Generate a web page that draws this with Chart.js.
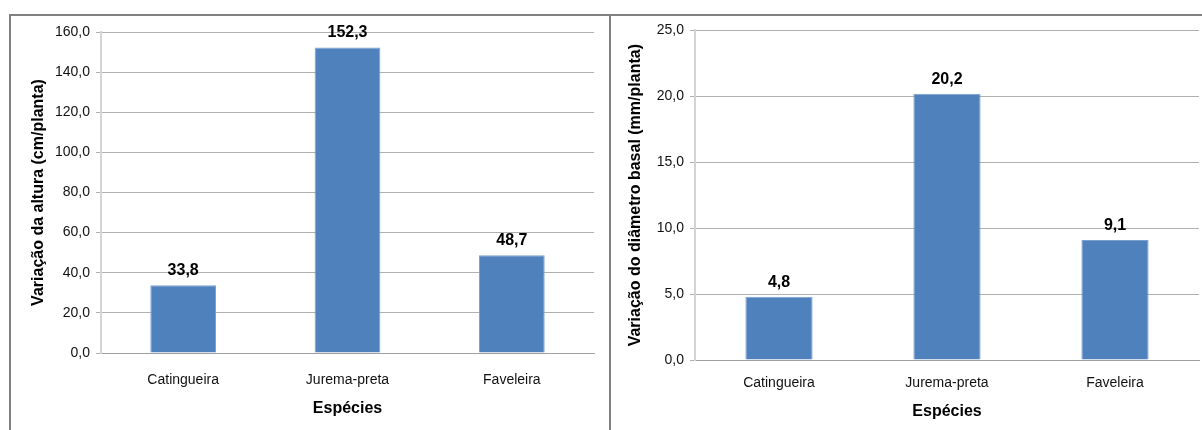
<!DOCTYPE html>
<html>
<head>
<meta charset="utf-8">
<script src="https://cdn.jsdelivr.net/npm/chart.js@4"></script>
<style>
body { margin: 0; background: #fff; width: 1202px; height: 430px; overflow: hidden; position: relative; }
#frame { position: absolute; left: 9px; top: 14px; width: 1200px; height: 430px; border-left: 2px solid #808080; border-top: 2px solid #808080; }
#divider { position: absolute; left: 609px; top: 14px; width: 2px; height: 416px; background: #808080; }
.box { position: absolute; top: 16px; height: 414px; }
#boxA { left: 11px; width: 598px; }
#boxB { left: 611px; width: 591px; }
</style>
</head>
<body>
<div id="frame"></div>
<div id="divider"></div>
<div class="box" id="boxA"><canvas id="chartA"></canvas></div>
<div class="box" id="boxB"><canvas id="chartB"></canvas></div>
<script>
var especies = ["Catingueira", "Jurema-preta", "Faveleira"];
var altura = [33.8, 152.3, 48.7];
var diametro = [4.8, 20.2, 9.1];

function fmt(v) {
	return v.toFixed(1).replace(".", ",");
}

// rotulos em cima das barras
var valueLabels = {
	id: "valueLabels",
	afterDatasetsDraw: function(chart) {
		var ctx = chart.ctx;
		var meta = chart.getDatasetMeta(0);
		ctx.save();
		ctx.font = "bold 16px 'Liberation Sans', Arial, sans-serif";
		ctx.fillStyle = "#000";
		ctx.textAlign = "center";
		ctx.textBaseline = "alphabetic";
		meta.data.forEach(function(bar, i) {
			ctx.fillText(fmt(chart.data.datasets[0].data[i]), bar.x, bar.y - 10);
		});
		ctx.restore();
	}
};

function makeChart(id, values, yTitle, max, step, lay) {
	return new Chart(document.getElementById(id), {
		type: "bar",
		data: {
			labels: especies,
			datasets: [{
				data: values,
				backgroundColor: "#4F81BD",
				borderColor: "#7BA0CD",
				borderWidth: 1,
				barPercentage: 0.4,
				categoryPercentage: 1
			}]
		},
		options: {
			responsive: true,
			maintainAspectRatio: false,
			animation: false,
			layout: { padding: { top: lay.top, right: lay.right, left: 0, bottom: 0 } },
			plugins: { legend: { display: false }, tooltip: { enabled: false } },
			scales: {
				x: {
					grid: { display: false, drawTicks: false },
					border: { color: "#A0A0A0", width: 1 },
					ticks: { color: "#111", padding: lay.xPad, font: { family: "'Liberation Sans', Arial", size: 14 } },
					title: { display: true, text: "Espécies", color: "#000", padding: { top: 0, bottom: lay.xTitlePad }, font: { family: "'Liberation Sans', Arial", size: 16, weight: "bold" } },
					afterFit: function(s) { s.height = lay.xHeight; }
				},
				y: {
					min: 0,
					max: max,
					grid: { color: "#B0B0B0", tickLength: 5, tickColor: "#B0B0B0" },
					border: { color: "#D4D4D4", width: 2 },
					ticks: { stepSize: step, color: "#111", padding: 6, font: { family: "'Liberation Sans', Arial", size: 14 }, callback: function(v) { return fmt(v); } },
					title: { display: true, text: yTitle, color: "#000", padding: { top: lay.yTitlePad, bottom: 0 }, font: { family: "'Liberation Sans', Arial", size: 16, weight: "bold" } },
					afterFit: function(s) { s.width = lay.yWidth; }
				}
			}
		},
		plugins: [valueLabels]
	});
}

makeChart("chartA", altura, "Variação da altura (cm/planta)", 160, 20,
	{ top: 16, right: 15, xPad: 19, xHeight: 77, xTitlePad: 12, yWidth: 90, yTitlePad: 18 });
makeChart("chartB", diametro, "Variação do diâmetro basal (mm/planta)", 25, 5,
	{ top: 14, right: 3, xPad: 15, xHeight: 70, xTitlePad: 9, yWidth: 84, yTitlePad: 15 });
</script>
</body>
</html>
